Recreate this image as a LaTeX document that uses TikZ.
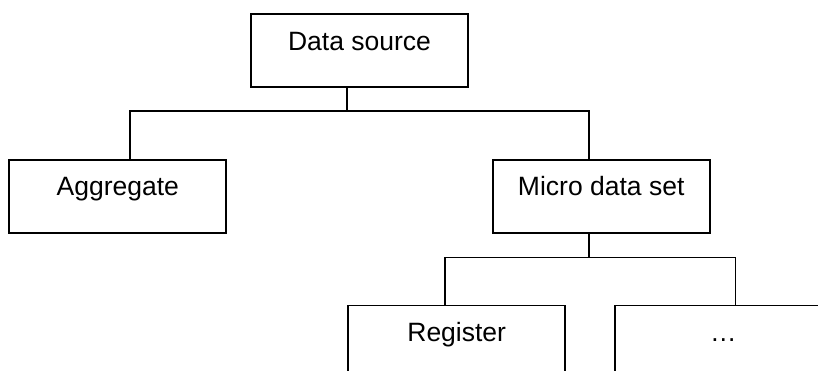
\documentclass[tikz,border=0pt]{standalone}
\usepackage{fontspec}
\setmainfont{Liberation Sans}
\usetikzlibrary{positioning}

\begin{document}
\begin{tikzpicture}[
            node distance=71pt,
            block/.style={draw, line width=1.7pt, minimum width=217pt, inner sep=0pt,
                text height=36pt, text depth=37pt, font=\fontsize{26.5}{31}\selectfont}, % text sits in the upper half
            link/.style={line width=1.7pt},
        ]
        \useasboundingbox (0,0) rectangle (818pt,-370pt);
        \clip (0,0) rectangle (818pt,-370pt);

        \node (src)   [block] at (359.5pt,-50.5pt)          {Data source};
        \node (agg)   [block, below left=71pt and 23pt of src]  {Aggregate};
        \node (micro) [block, below right=71pt and 23pt of src] {Micro data set};
        \node (reg)   [block, below=of micro, xshift=-144.5pt]  {Register};
        \node (more)  [block, right=48pt of reg]            {…};

        % bus lines between the levels
        \coordinate (bus1) at ([xshift=-12.5pt, yshift=-23pt]src.south);
        \coordinate (bus2) at ([xshift=-12.5pt, yshift=-24pt]micro.south);

        \draw[link] ([xshift=-12.5pt]src.south) -- (bus1);
        \draw[link] ([xshift=12.5pt]agg.north) |- (bus1) -| ([xshift=-12.5pt]micro.north);

        \draw[link] ([xshift=-12.5pt]micro.south) -- (bus2);
        \draw[link] ([xshift=-12pt]reg.north) |- (bus2) -| ([xshift=12pt]more.north);
    \end{tikzpicture}
\end{document}
